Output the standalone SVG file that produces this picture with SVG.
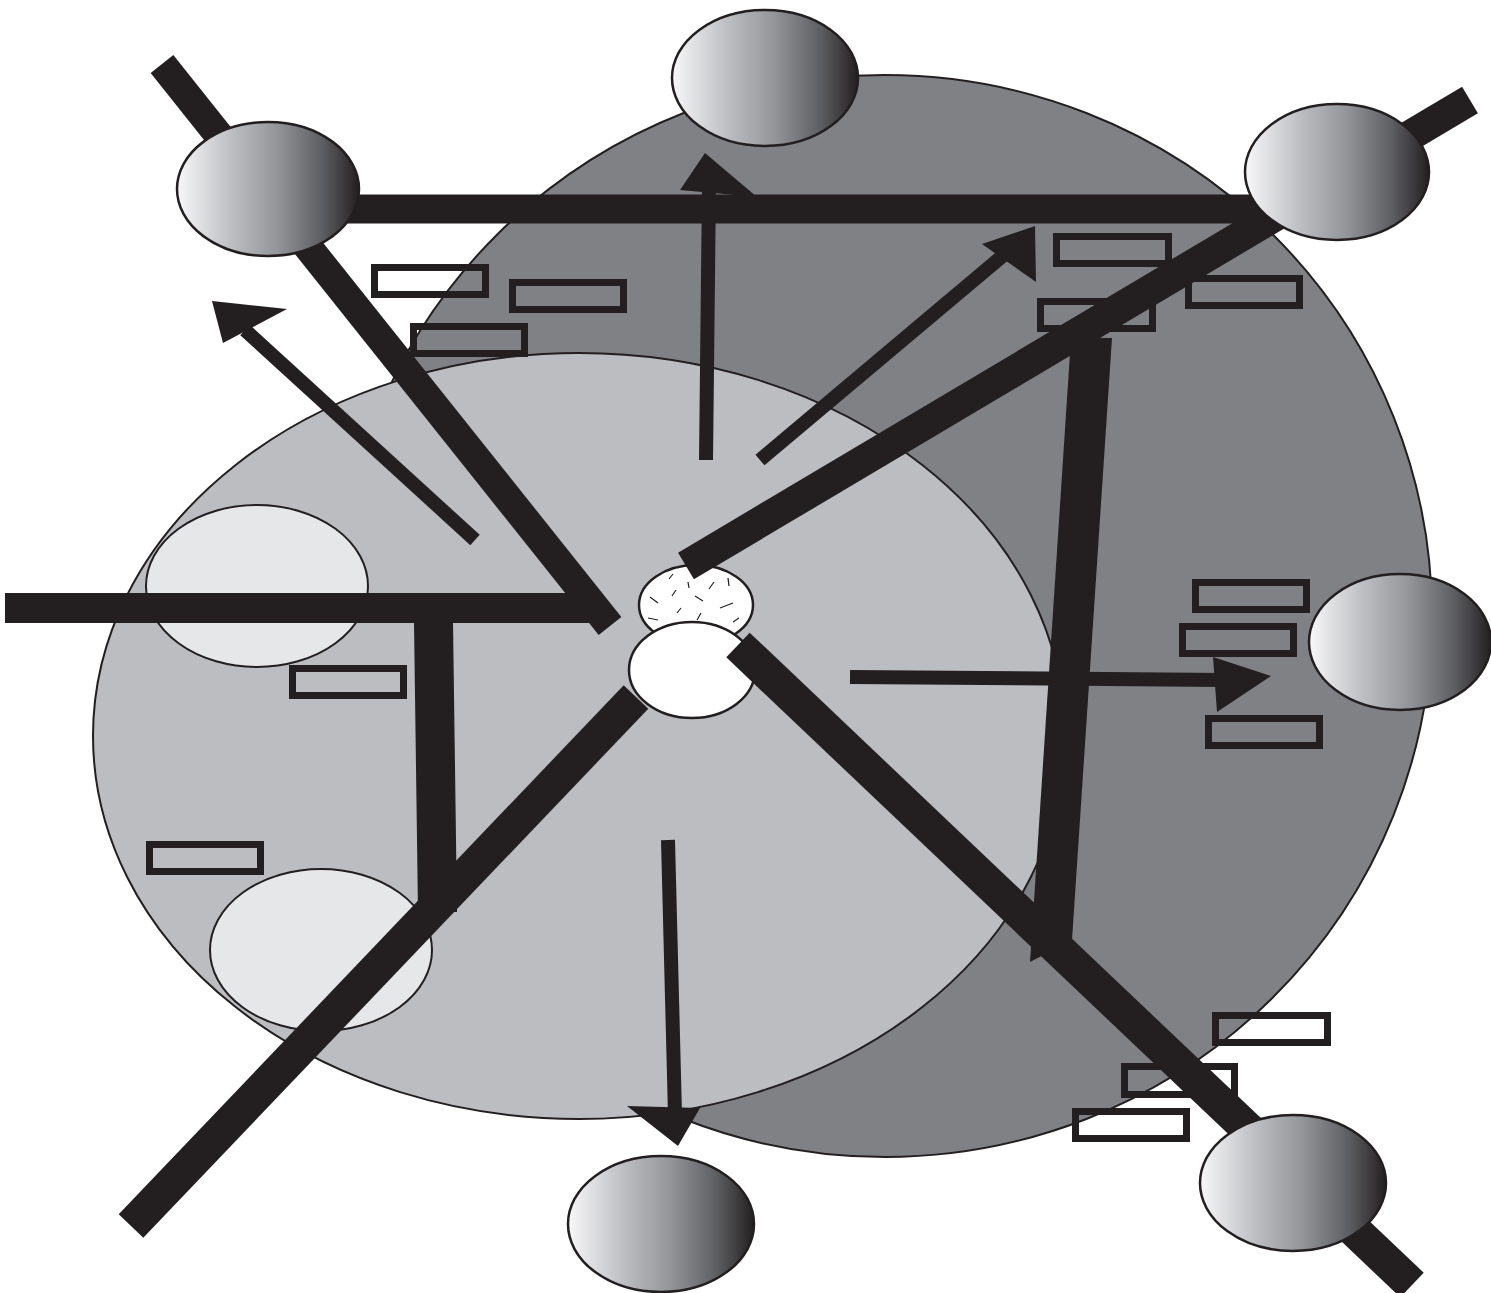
<svg xmlns="http://www.w3.org/2000/svg" width="1491" height="1293" viewBox="0 0 1491 1293">
<defs>
<linearGradient id="g" x1="0" y1="0" x2="1" y2="0">
<stop offset="0" stop-color="#f8f8f9"/>
<stop offset="0.3" stop-color="#bdbec2"/>
<stop offset="0.55" stop-color="#939598"/>
<stop offset="0.8" stop-color="#5d5e61"/>
<stop offset="1" stop-color="#231f20"/>
</linearGradient>
</defs>
<style>
.bg1{fill:#808184;stroke:#231f20;stroke-width:2}
.bg2{fill:#bcbdc1;stroke:#231f20;stroke-width:2}
.lt{fill:#e6e7e9;stroke:#231f20;stroke-width:2}
.wh{fill:#ffffff;stroke:#231f20;stroke-width:2.5}
.gr{fill:url(#g);stroke:#231f20;stroke-width:2.5}
.box{fill:none;stroke:#231f20;stroke-width:7}
.bar{stroke:#231f20;fill:none;stroke-linecap:butt}
.shaft{stroke:#231f20;stroke-width:14;fill:none}
.head{fill:#231f20}
.sp{stroke:#231f20;stroke-width:1.2}
</style>
<rect width="1491" height="1293" fill="#ffffff"/>
<g id="outer-region"><ellipse class="bg1" cx="885" cy="616" rx="547" ry="541"/></g>
<g id="inner-region"><ellipse class="bg2" cx="579" cy="736" rx="486" ry="383"/></g>
<g id="left-node-upper"><ellipse class="lt" cx="257" cy="586" rx="111" ry="81"/></g>
<g id="left-node-lower"><ellipse class="lt" cx="321" cy="950" rx="111" ry="81"/></g>
<g id="core-upper">
<ellipse class="wh" cx="696" cy="605" rx="57" ry="40"/>
<g class="sp">
<line x1="669" y1="579" x2="673" y2="574"/><line x1="688" y1="582" x2="689" y2="588"/>
<line x1="709" y1="589" x2="714" y2="582"/><line x1="728" y1="578" x2="729" y2="586"/>
<line x1="672" y1="596" x2="676" y2="590"/><line x1="650" y1="597" x2="658" y2="603"/>
<line x1="695" y1="596" x2="703" y2="601"/><line x1="720" y1="608" x2="733" y2="603"/>
<line x1="677" y1="613" x2="681" y2="608"/><line x1="648" y1="618" x2="658" y2="620"/>
<line x1="697" y1="620" x2="701" y2="613"/><line x1="733" y1="622" x2="739" y2="618"/>
</g>
</g>
<g id="core-lower"><ellipse class="wh" cx="692" cy="670" rx="63" ry="48"/></g>
<g id="labels">
<rect class="box" x="374.5" y="267.5" width="111" height="27"/>
<rect class="box" x="512.5" y="282.5" width="111" height="27"/>
<rect class="box" x="413.5" y="326.5" width="111" height="27"/>
<rect class="box" x="1056.5" y="236.5" width="112" height="27"/>
<rect class="box" x="1188.5" y="278.5" width="111" height="27"/>
<rect class="box" x="1040.5" y="301.5" width="112" height="27"/>
<rect class="box" x="1195.5" y="582.5" width="111" height="27"/>
<rect class="box" x="1182.5" y="626.5" width="111" height="27"/>
<rect class="box" x="1208.5" y="718.5" width="111" height="27"/>
<rect class="box" x="292.5" y="668.5" width="111" height="27"/>
<rect class="box" x="149.5" y="844.5" width="111" height="27"/>
<rect class="box" x="1215.5" y="1015.5" width="112" height="27"/>
<rect class="box" x="1124.5" y="1066.5" width="110" height="28"/>
<rect class="box" x="1075.5" y="1111.5" width="111" height="27"/>
</g>
<g id="connectors">
<line class="shaft" x1="706" y1="460" x2="709" y2="185"/>
<polygon class="head" points="705,153 680,190 757,197"/>
<line class="shaft" x1="760" y1="460" x2="1012" y2="248"/>
<polygon class="head" points="1035,226 1036,282 982,244"/>
<line class="shaft" x1="475" y1="540" x2="245" y2="330"/>
<polygon class="head" points="212,301 287,309 223,343"/>
<line class="shaft" x1="850" y1="677" x2="1225" y2="680"/>
<polygon class="head" points="1271,676 1213,657 1217,712"/>
<line class="shaft" x1="668" y1="840" x2="675" y2="1115"/>
<polygon class="head" points="678,1146 627,1106 700,1108"/>
<line class="bar" stroke-width="29" x1="162" y1="64" x2="610" y2="626"/>
<line class="bar" stroke-width="29" x1="340" y1="209" x2="1270" y2="209"/>
<line class="bar" stroke-width="31" x1="686" y1="566" x2="1470" y2="100"/>
<line class="bar" stroke-width="30" x1="5" y1="608" x2="598" y2="608"/>
<polygon class="head" points="414,622 453,622 457,912 418,912"/>
<line class="bar" stroke-width="34" x1="636" y1="697" x2="131" y2="1226"/>
<line class="bar" stroke-width="34" x1="738" y1="645" x2="1412" y2="1285"/>
<polygon class="head" points="1071,338 1112,338 1072,940 1030,962"/>
</g>
<g id="node-top-left"><ellipse class="gr" cx="268" cy="189" rx="91" ry="67"/></g>
<g id="node-top"><ellipse class="gr" cx="765" cy="78" rx="93" ry="68"/></g>
<g id="node-top-right"><ellipse class="gr" cx="1337" cy="172" rx="92" ry="68"/></g>
<g id="node-right"><ellipse class="gr" cx="1400" cy="642" rx="91" ry="68"/></g>
<g id="node-bottom-right"><ellipse class="gr" cx="1293" cy="1183" rx="93" ry="68"/></g>
<g id="node-bottom"><ellipse class="gr" cx="661" cy="1224" rx="93" ry="68"/></g>
</svg>
